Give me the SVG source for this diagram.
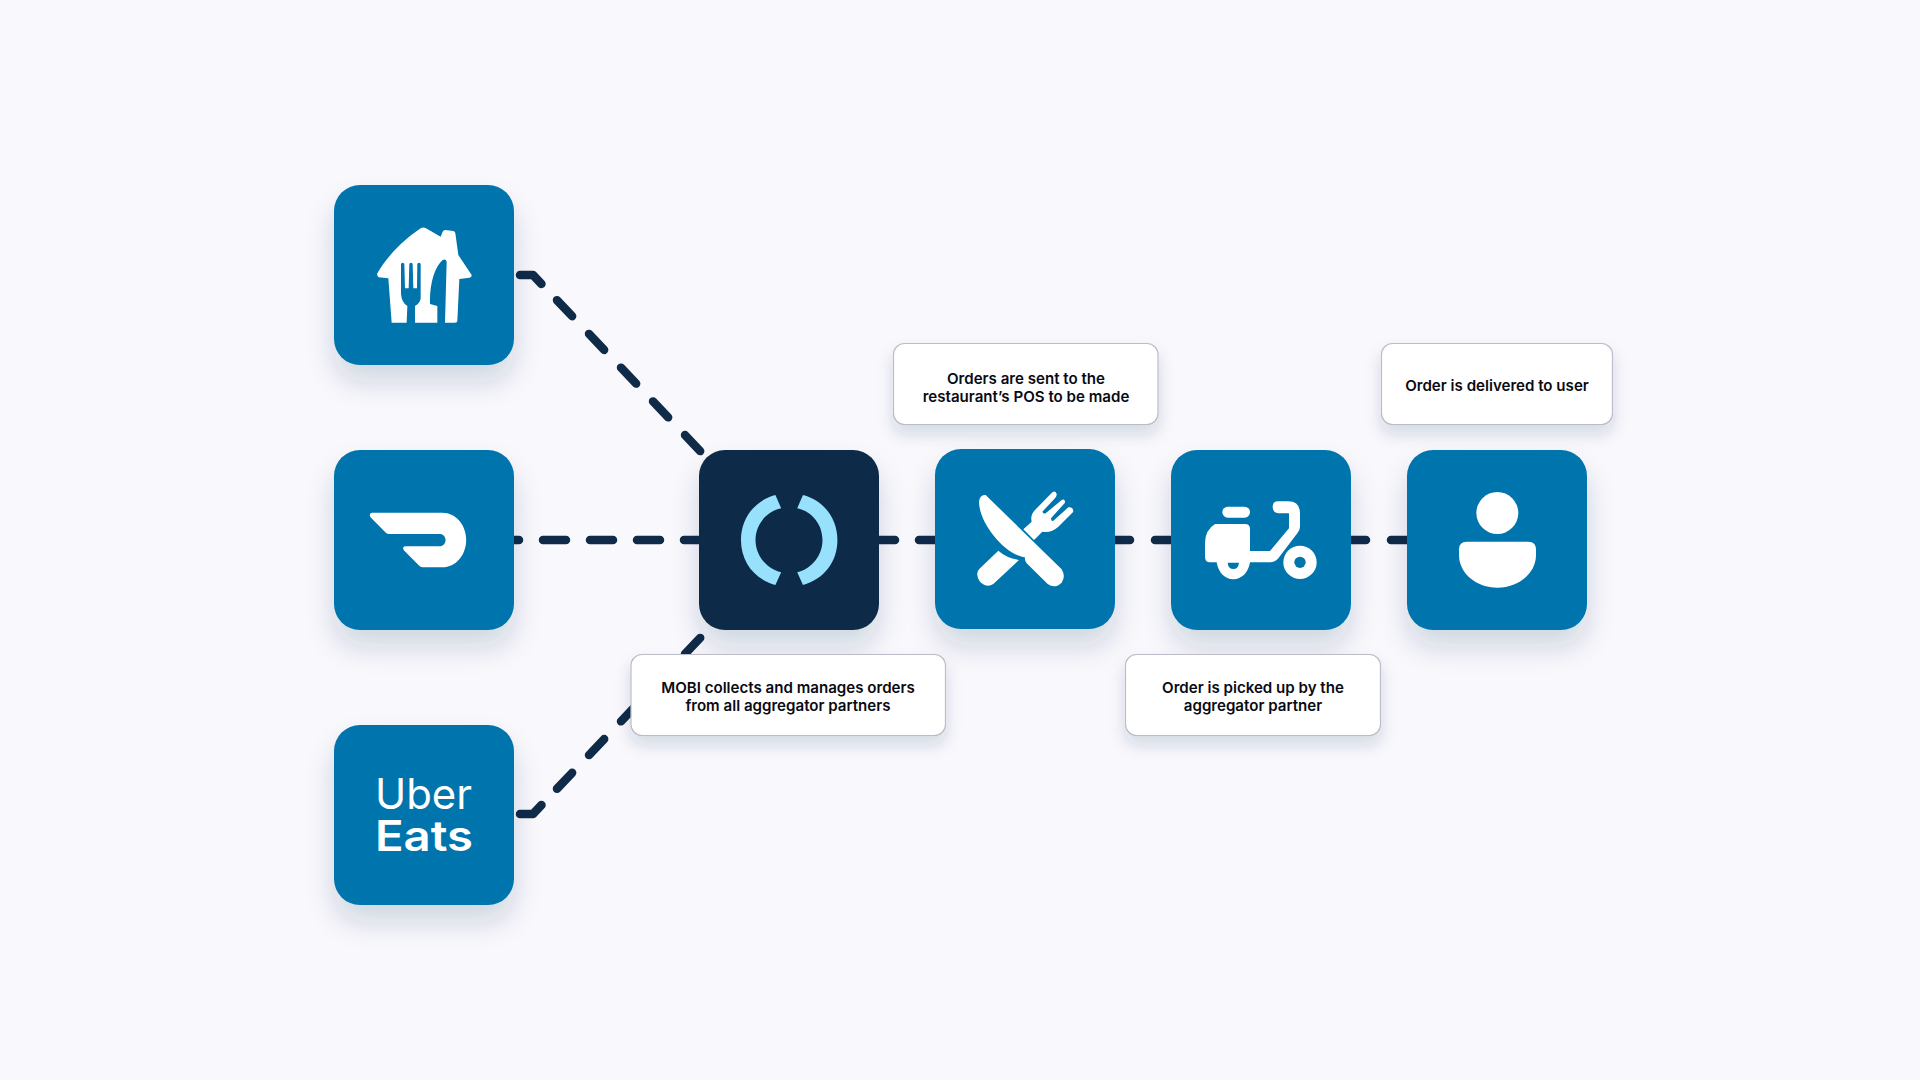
<svg xmlns="http://www.w3.org/2000/svg" width="1920" height="1080" viewBox="0 0 1920 1080">
<defs>
<filter id="nodeShadow" x="-40%" y="-40%" width="180%" height="190%"><feDropShadow dx="0" dy="17" stdDeviation="14" flood-color="#0f2c4c" flood-opacity="0.16"/></filter>
<filter id="labelShadow" x="-20%" y="-40%" width="140%" height="200%"><feDropShadow dx="0" dy="9" stdDeviation="8" flood-color="#0f2c4c" flood-opacity="0.15"/></filter>
</defs>
<style>
.bg{fill:#f8f8fd}
.box{fill:#0075ad;filter:url(#nodeShadow)}
.dark{fill:#0f2b48;filter:url(#nodeShadow)}
.ico{fill:#fff}
.hole{fill:#0075ad}
.ring{fill:#97e1fd}
.conn{fill:none;stroke:#0f2b48;stroke-width:8.5;stroke-linecap:round;stroke-linejoin:round}
.lab{fill:#fff;stroke:#bcbcc8;stroke-width:1.2;filter:url(#labelShadow)}
.t{font-family:"Inter","Liberation Sans",sans-serif;font-size:15.1px;font-weight:560;fill:#0a0a12;text-anchor:middle}
.logo{font-family:"Inter","Liberation Sans",sans-serif;font-size:42px;fill:#fff}
</style>
<rect class="bg" width="1920" height="1080"/>
<g id="connectors">
<path class="conn" d="M520 275H533L541.5 284"/>
<path class="conn" stroke-dasharray="22 24.5" d="M557 300.2L702 453"/>
<path class="conn" d="M520 814H533L541.5 805"/>
<path class="conn" stroke-dasharray="22 24.5" d="M557 788.8L702 636"/>
<path class="conn" stroke-dasharray="23 24" d="M496 540H707"/>
<path class="conn" stroke-dasharray="23 24" d="M872 540H942"/>
<path class="conn" stroke-dasharray="23 25" d="M1107 540H1178"/>
<path class="conn" stroke-dasharray="23 25" d="M1343 540H1414"/>
</g>
<g id="node-menulog">
<rect class="box" x="334" y="185" width="180" height="180" rx="26"/>
<path class="ico" transform="translate(370 220) scale(.33333)" d="M22 160C50 110 100 60 152 25Q160 20 168 25L212 50L218 35Q220 30 226 30L250 33Q255 34 256 40L265 105L305 165Q306 172 298 173L268 177L262 303Q262 308 255 308H225L230 125Q228 116 218 120C195 140 178 190 180 252L202 258V308H135V258Q150 250 152 235V133Q152 128 147 128T142 133L141 205H130L128 133Q128 128 123 128T118 133L116 205H105L103 133Q103 128 98 128T93 133V222Q95 248 112 258L110 308H65L55 175L26 172Q20 168 22 160Z"/>
</g>
<g id="node-doordash">
<rect class="box" x="334" y="450" width="180" height="180" rx="26"/>
<path class="ico" transform="translate(320 440) scale(.3827 .33333)" d="M136 218H320C355 218 382 255 382 300C382 345 355 382 320 382H268Q262 382 258 376L219 331Q214 319 224 319H312C322 319 328 310 328 300C328 290 322 282 312 282H180Q174 282 170 276L132 232Q127 220 136 218Z"/>
</g>
<g id="node-ubereats">
<rect class="box" x="334" y="725" width="180" height="180" rx="26"/>
<text class="logo"><tspan x="375" y="809" font-weight="380" textLength="97" lengthAdjust="spacingAndGlyphs">Uber</tspan><tspan x="375" y="851" font-weight="560" textLength="98" lengthAdjust="spacingAndGlyphs">Eats</tspan></text>
</g>
<g id="node-mobi">
<rect class="dark" x="699" y="450" width="180" height="180" rx="26"/>
<g class="ring" transform="translate(320 440) scale(.3827 .33333)">
<path d="M1190 165C1135 182 1100 235 1100 300C1100 365 1135 418 1190 435L1205 397C1165 385 1138 345 1138 300C1138 255 1165 215 1205 205Z"/>
<path d="M1262 165C1317 182 1352 235 1352 300C1352 365 1317 418 1262 435L1247 397C1287 385 1313 345 1313 300C1313 255 1287 215 1247 205Z"/>
</g>
</g>
<g id="node-restaurant">
<rect class="box" x="935" y="449" width="180" height="180" rx="26"/>
<g class="ico" transform="translate(965 480) scale(.33333)">
<path d="M42 65Q45 42 62 45L290 268Q303 290 290 308Q270 328 248 312L185 250Q178 240 180 232C120 225 42 130 42 65Z"/>
<path d="M175 148L200 125Q195 105 210 90L262 37Q272 30 275 42Q276 48 270 55L232 95Q235 103 242 100L290 60Q300 55 300 68L258 115Q258 125 265 122L310 82Q325 80 325 95L280 140Q258 160 232 155L207 180Z"/>
<path d="M100 212Q125 234 162 240L85 312Q65 325 45 305Q28 280 45 265Z"/>
</g>
</g>
<g id="node-courier">
<rect class="box" x="1171" y="450" width="180" height="180" rx="26"/>
<g transform="translate(880 330) scale(.33333)">
<rect class="ico" x="1027" y="530" width="83" height="33" rx="16"/>
<path class="ico" d="M1005 582H1095Q1110 582 1110 597V663H1170L1227 595V550H1195Q1178 548 1178 530Q1178 514 1195 514H1225Q1260 514 1260 550V590Q1260 600 1252 610L1195 685Q1185 697 1170 697H1110C1105 728 1085 748 1060 748C1035 748 1015 728 1010 697H990Q975 697 975 680V640Q975 600 1005 582Z"/>
<path class="hole" d="M1043 698H1077Q1075 717 1060 717Q1045 717 1043 698Z"/>
<circle class="ico" cx="1260" cy="697" r="50"/>
<circle class="hole" cx="1260" cy="697" r="17"/>
</g>
</g>
<g id="node-user">
<rect class="box" x="1407" y="450" width="180" height="180" rx="26"/>
<g class="ico" transform="translate(1120 430) scale(.33333)">
<circle cx="1132" cy="249" r="63"/>
<path d="M1040 335H1225Q1248 335 1248 358V375C1248 430 1195 473 1132 473C1069 473 1017 430 1017 375V358Q1017 335 1040 335Z"/>
</g>
</g>
<g id="label-mobi">
<rect class="lab" x="631" y="654.5" width="314.5" height="81" rx="11"/>
<text class="t" x="788" y="693">MOBI collects and manages orders</text>
<text class="t" x="788" y="711">from all aggregator partners</text>
</g>
<g id="label-pos">
<rect class="lab" x="893.5" y="343.5" width="264.5" height="81" rx="11"/>
<text class="t" x="1026" y="384">Orders are sent to the</text>
<text class="t" x="1026" y="402">restaurant’s POS to be made</text>
</g>
<g id="label-pickup">
<rect class="lab" x="1125.5" y="654.5" width="255" height="81" rx="11"/>
<text class="t" x="1253" y="693">Order is picked up by the</text>
<text class="t" x="1253" y="711">aggregator partner</text>
</g>
<g id="label-delivered">
<rect class="lab" x="1381.5" y="343.5" width="231" height="81" rx="11"/>
<text class="t" x="1497" y="391">Order is delivered to user</text>
</g>
</svg>
